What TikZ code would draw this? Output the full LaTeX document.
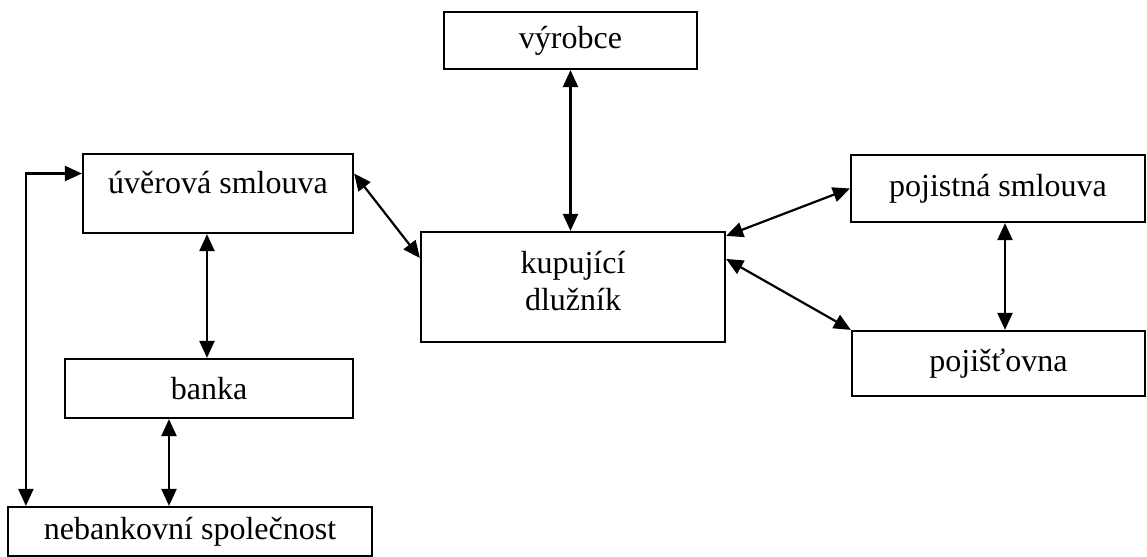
\documentclass[tikz,border=0pt]{standalone}
\usepackage{fontspec}
\setmainfont{Liberation Serif}
\usetikzlibrary{arrows.meta}

\tikzset{
    box/.style={draw, line width=1.1pt, inner sep=0pt, align=center,
        font=\fontsize{16}{18.5}\selectfont},
    link/.style={line width=1.1pt, {Triangle[length=8.5pt,width=7.5pt]}-{Triangle[length=8.5pt,width=7.5pt]}}
}

\begin{document}
\begin{tikzpicture}[x=0.5pt, y=-0.5pt]
    \useasboundingbox (0,0) rectangle (1147,557);
        %draw boxes
    \node[box, minimum width=126.5pt, minimum height=28.5pt] (vyrobce) at (570.5,40.5) {výrobce};
    \node[box, minimum width=135pt, minimum height=39.5pt, text depth=11pt] (uver) at (218,193.5) {úvěrová smlouva};
    \node[box, minimum width=152pt, minimum height=55pt, text depth=6pt] (kup) at (573,287) {kupující\\dlužník};
    \node[box, minimum width=147pt, minimum height=33.5pt] (pojsml) at (998,188.5) {pojistná smlouva};
    \node[box, minimum width=146.5pt, minimum height=32.5pt] (pojist) at (998.5,363.5) {pojišťovna};
    \node[box, minimum width=144pt, minimum height=29.5pt] (banka) at (209,388.5) {banka};
    \node[box, minimum width=182pt, minimum height=24.5pt] (neb) at (190,531.5) {nebankovní společnost};

        %draw arrows left side
    \draw[link] ([xshift=9.5pt]neb.north west) |- ([yshift=10pt]uver.west);
    \draw[link] ([xshift=-5.5pt]uver.south) -- ([xshift=-5.5pt]uver.south |- banka.north);
    \draw[link] ([xshift=-20pt]banka.south) -- ([xshift=-20pt]banka.south |- neb.north);
    \draw[link] ([yshift=10pt]uver.east) -- ([yshift=14.5pt]kup.west);
        %draw arrows middle and right side
    \draw[link] (vyrobce.south) -- (vyrobce.south |- kup.north);
    \draw[link] ([yshift=-2.5pt]kup.north east) -- (pojsml.west);
    \draw[link] ([yshift=-14pt]kup.north east) -- (pojist.north west);
    \draw[link] ([xshift=3.5pt]pojsml.south) -- ([xshift=3.5pt]pojsml.south |- pojist.north);
\end{tikzpicture}
\end{document}
